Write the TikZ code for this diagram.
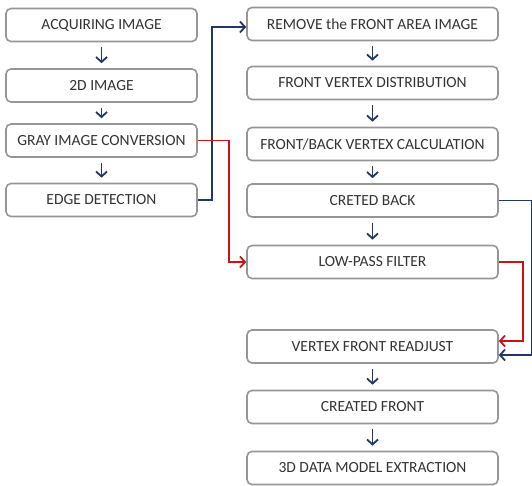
\documentclass[tikz,border=0pt]{standalone}
\usepackage{fontspec}
\setmainfont{Carlito}
\usetikzlibrary{arrows.meta}
\definecolor{boxgray}{RGB}{150,150,150}
\definecolor{flowblue}{RGB}{31,56,100}
\definecolor{flowred}{RGB}{200,20,20}

\tikzset{
    stepbox/.style={draw=boxgray, line width=1.6pt, rounded corners=5pt, fill=white,
        minimum height=33pt, inner sep=0pt, text=black!80, font=\fontsize{15.5}{17}\selectfont},
    leftbox/.style={stepbox, minimum width=191pt},
    rightbox/.style={stepbox, minimum width=251pt},
    flow/.style={-{Straight Barb[length=5pt,width=11pt,line width=1.8pt]}, line width=1.8pt, color=flowblue},
    down/.style={flow, shorten >=5pt, shorten <=5pt},
}

\begin{document}
\begin{tikzpicture}[x=1pt, y=-1pt]
    \useasboundingbox (0,0) rectangle (532,485);

    % left column
    \node[leftbox] (acq)  at (101.5,25)    {ACQUIRING IMAGE};
    \node[leftbox] (img)  at (101.5,85.5)  {2D IMAGE};
    \node[leftbox] (gray) at (101.5,140.5) {GRAY IMAGE CONVERSION};
    \node[leftbox] (edge) at (101.5,200)   {EDGE DETECTION};

    % right column
    \node[rightbox] (remove)  at (372.5,24)    {REMOVE the FRONT AREA IMAGE};
    \node[rightbox] (distr)   at (372.5,83)    {FRONT VERTEX DISTRIBUTION};
    \node[rightbox] (calc)    at (372.5,144)   {FRONT/BACK VERTEX CALCULATION};
    \node[rightbox] (back)    at (372.5,200.5) {CRETED BACK};
    \node[rightbox] (lowpass) at (372.5,262)   {LOW-PASS FILTER};
    \node[rightbox] (readj)   at (372.5,346.5) {VERTEX FRONT READJUST};
    \node[rightbox] (front)   at (372.5,407)   {CREATED FRONT};
    \node[rightbox] (model)   at (372.5,468)   {3D DATA MODEL EXTRACTION};

    \foreach \a/\b in {acq/img, img/gray, gray/edge, remove/distr, distr/calc,
                       calc/back, back/lowpass, readj/front, front/model}
    \draw[down] (\a) -- (\b);

    % side connectors
    \draw[flow] (edge.east) -- ++(14,0) |- ([yshift=-3pt]remove.west);
    \draw[flow, color=flowred] (gray.east) -- ++(31,0) |- (lowpass.west);
    \draw[flow] (back.east) -- ++(33,0) |- ([yshift=-8.5pt]readj.east);
    \draw[flow, color=flowred] (lowpass.east) -- ++(24,0) |- ([yshift=5.5pt]readj.east);
\end{tikzpicture}
\end{document}
